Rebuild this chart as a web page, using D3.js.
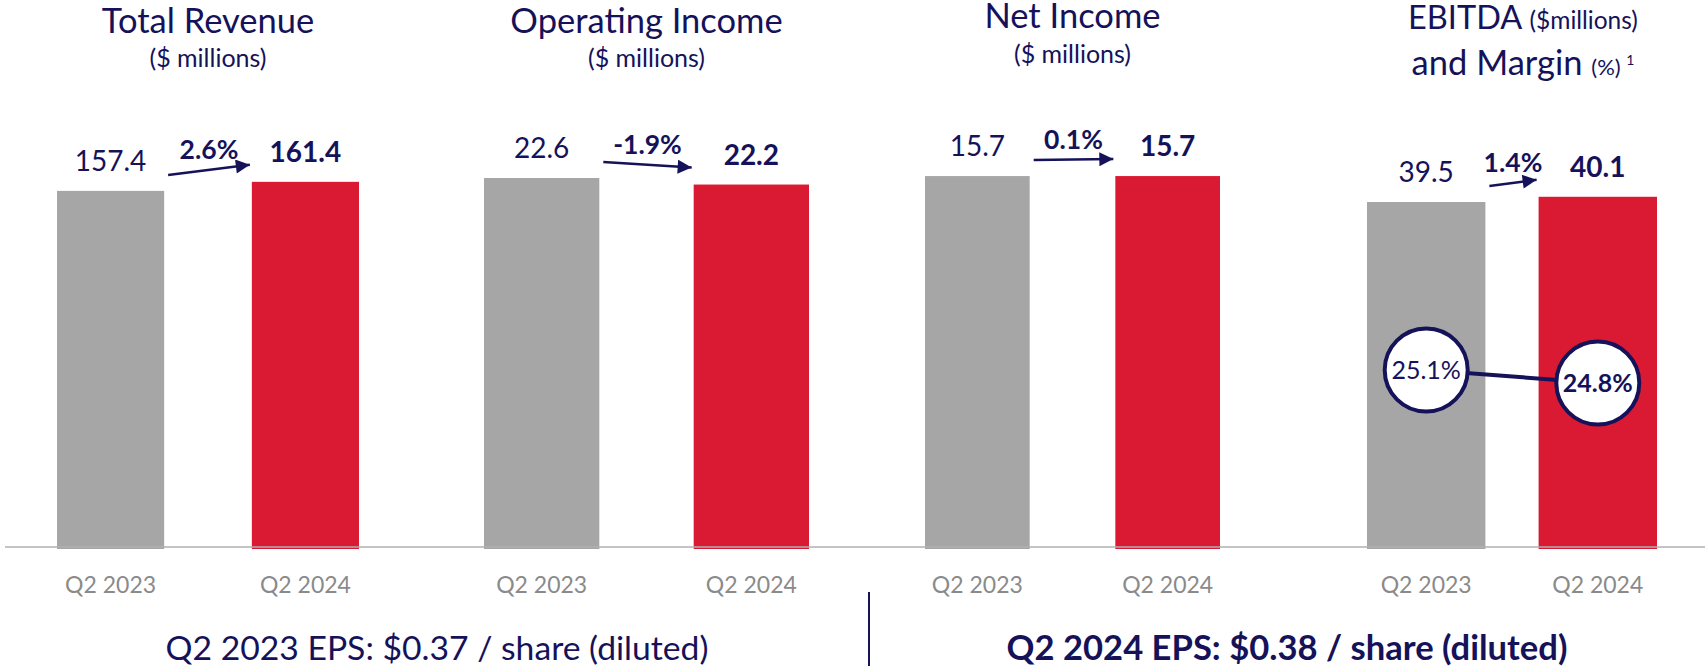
<!DOCTYPE html>
<html>
<head>
<meta charset="utf-8">
<script src="https://cdn.jsdelivr.net/npm/d3@7"></script>
<style>
  body { margin: 0; background: #fff; }
  text { font-family: Lato, "Open Sans", sans-serif; }
</style>
</head>
<body>
<div id="chart-area"></div>
<script>
// data
var categories = ["Q2 2023", "Q2 2024"];
var revenue = [157.4, 161.4];
var operatingIncome = [22.6, 22.2];
var netIncome = [15.7, 15.7];
var ebitda = [39.5, 40.1];
var changes = ["2.6%", "-1.9%", "0.1%", "1.4%"];
var ebitdaMargin = [25.1, 24.8];
var epsLabels = ["Q2 2023 EPS: $0.37 / share (diluted)", "Q2 2024 EPS: $0.38 / share (diluted)"];

var width = 1705;
var height = 666;
var baseY = 547;
var plotH = 400;
var navy = "#15125a";
var barColors = ["#a6a6a6", "#da1a32"];
var fmt = d3.format(".1f");

// layout of each small chart
var panels = [
    {title: "Total Revenue", values: revenue, change: changes[0], x0: 57, x1: 359, pad: 0.45, yMax: 176.8, titleY: 33, subY: 67},
    {title: "Operating Income", values: operatingIncome, change: changes[1], x0: 484, x1: 809, pad: 0.45, yMax: 24.5, titleY: 33, subY: 67},
    {title: "Net Income", values: netIncome, change: changes[2], x0: 925, x1: 1220, pad: 0.45, yMax: 16.93, titleY: 28, subY: 63},
    {title: "EBITDA", values: ebitda, change: changes[3], x0: 1367, x1: 1657, pad: 0.31, yMax: 45.8, titleY: 29, subY: 75}
];

var svg = d3.select("#chart-area").append("svg")
    .attr("width", width)
    .attr("height", height);

svg.append("defs").append("marker")
    .attr("id", "arrow")
    .attr("markerUnits", "userSpaceOnUse")
    .attr("viewBox", "0 0 10 10")
    .attr("refX", 10)
    .attr("refY", 5)
    .attr("markerWidth", 16)
    .attr("markerHeight", 14)
    .attr("orient", "auto")
    .append("path")
    .attr("d", "M0,0L10,5L0,10Z")
    .attr("fill", navy);

panels.forEach((p, k) => {
    var x = d3.scaleBand().domain(categories).range([p.x0, p.x1]).paddingInner(p.pad).paddingOuter(0);
    var y = d3.scaleLinear().domain([0, p.yMax]).range([baseY, baseY - plotH]);
    var g = svg.append("g");
    var cx = (p.x0 + p.x1) / 2;

    g.selectAll("rect").data(p.values).enter().append("rect")
        .attr("x", (d, i) => x(categories[i]))
        .attr("y", (d) => y(d))
        .attr("width", x.bandwidth())
        .attr("height", (d) => baseY + 2 - y(d))
        .attr("fill", (d, i) => barColors[i]);

    g.selectAll(".val").data(p.values).enter().append("text")
        .attr("class", "val")
        .attr("x", (d, i) => x(categories[i]) + x.bandwidth() / 2)
        .attr("y", (d) => y(d) - 20)
        .attr("text-anchor", "middle")
        .attr("font-size", 28)
        .attr("font-weight", (d, i) => i == 1 ? "bold" : "normal")
        .attr("fill", navy)
        .text((d) => fmt(d));

    // arrow with % change
    var ax0 = x(categories[0]) + x.bandwidth() + 4, ay0 = y(p.values[0]) - 16;
    var ax1 = x(categories[1]) - 2, ay1 = y(p.values[1]) - 17;
    g.append("line")
        .attr("x1", ax0).attr("y1", ay0)
        .attr("x2", ax1).attr("y2", ay1)
        .attr("stroke", navy)
        .attr("stroke-width", 2.5)
        .attr("marker-end", "url(#arrow)");
    g.append("text")
        .attr("x", (ax0 + ax1) / 2)
        .attr("y", (ay0 + ay1) / 2 - 11)
        .attr("text-anchor", "middle")
        .attr("font-size", 26.5)
        .attr("font-weight", "bold")
        .attr("fill", navy)
        .text(p.change);

    g.selectAll(".cat").data(categories).enter().append("text")
        .attr("class", "cat")
        .attr("x", (d) => x(d) + x.bandwidth() / 2)
        .attr("y", 593)
        .attr("text-anchor", "middle")
        .attr("font-size", 23)
        .attr("fill", "#8a8a8a")
        .text((d) => d);

    if (k < 3) {
        g.append("text")
            .attr("x", cx).attr("y", p.titleY)
            .attr("text-anchor", "middle")
            .attr("font-size", 34.5)
            .attr("fill", navy)
            .text(p.title);
        g.append("text")
            .attr("x", cx).attr("y", p.subY)
            .attr("text-anchor", "middle")
            .attr("font-size", 25)
            .attr("fill", navy)
            .text("($ millions)");
    } else {
        var t1 = g.append("text")
            .attr("x", cx + 11).attr("y", p.titleY)
            .attr("text-anchor", "middle")
            .attr("fill", navy);
        t1.append("tspan").attr("font-size", 32.5).text(p.title + " ");
        t1.append("tspan").attr("font-size", 24.5).text("($millions)");
        var t2 = g.append("text")
            .attr("x", cx + 11).attr("y", p.subY)
            .attr("text-anchor", "middle")
            .attr("fill", navy);
        t2.append("tspan").attr("font-size", 34.5).text("and Margin ");
        t2.append("tspan").attr("font-size", 22).text("(%) ");
        t2.append("tspan").attr("font-size", 14).attr("dy", -10).text("1");

        // margin circles
        var m = d3.scaleLinear().domain([24.8, 25.1]).range([383, 370]);
        var pts = ebitdaMargin.map((d, i) => [x(categories[i]) + x.bandwidth() / 2, m(d)]);
        g.append("line")
            .attr("x1", pts[0][0]).attr("y1", pts[0][1])
            .attr("x2", pts[1][0]).attr("y2", pts[1][1])
            .attr("stroke", navy)
            .attr("stroke-width", 4);
        g.selectAll("circle").data(ebitdaMargin).enter().append("circle")
            .attr("cx", (d, i) => pts[i][0])
            .attr("cy", (d, i) => pts[i][1])
            .attr("r", 41.5)
            .attr("fill", "#fff")
            .attr("stroke", navy)
            .attr("stroke-width", 4);
        g.selectAll(".mg").data(ebitdaMargin).enter().append("text")
            .attr("class", "mg")
            .attr("x", (d, i) => pts[i][0])
            .attr("y", (d, i) => pts[i][1] + 9)
            .attr("text-anchor", "middle")
            .attr("font-size", 25)
            .attr("font-weight", (d, i) => i == 1 ? "bold" : "normal")
            .attr("fill", navy)
            .text((d) => fmt(d) + "%");
    }
});

// baseline
svg.append("line")
    .attr("x1", 5).attr("x2", width)
    .attr("y1", baseY).attr("y2", baseY)
    .attr("stroke", "#b0b0b0")
    .attr("stroke-width", 1.5);

// EPS footer
svg.append("line")
    .attr("x1", 869).attr("x2", 869)
    .attr("y1", 592).attr("y2", height)
    .attr("stroke", navy)
    .attr("stroke-width", 2);

svg.selectAll(".eps").data(epsLabels).enter().append("text")
    .attr("class", "eps")
    .attr("x", (d, i) => i == 0 ? 437 : 1287)
    .attr("y", 660)
    .attr("text-anchor", "middle")
    .attr("font-size", (d, i) => i == 0 ? 33.7 : 34.6)
    .attr("font-weight", (d, i) => i == 1 ? "bold" : "normal")
    .attr("fill", navy)
    .text((d) => d);
</script>
</body>
</html>
